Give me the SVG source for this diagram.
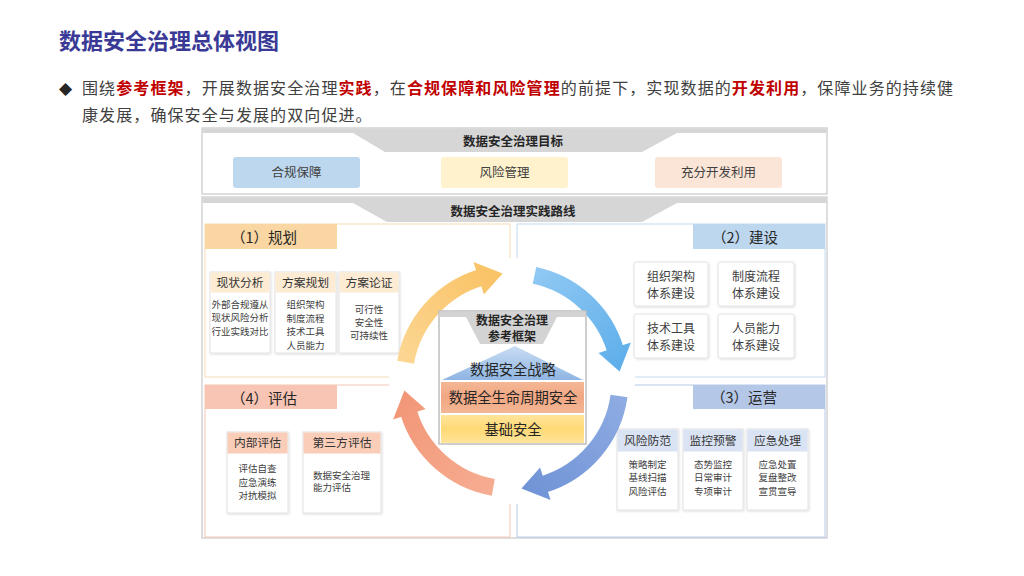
<svg xmlns="http://www.w3.org/2000/svg" width="1024" height="576" viewBox="0 0 1024 576">
<style>
text{font-family:"Noto Sans CJK SC","Noto Sans",sans-serif;fill:#333}
.title{font-size:22px;font-weight:700;fill:#3a3a96}
.body{font-size:16px;letter-spacing:1.1px;fill:#404040}
.hl{font-weight:700;fill:#c00000}
.hdr{font-size:12.5px;font-weight:700;fill:#262626;text-anchor:middle}
.fwh{font-size:12px;font-weight:700;fill:#262626;text-anchor:middle}
.goal{font-size:12.5px;fill:#404040;text-anchor:middle}
.tab{font-size:14.5px;fill:#262626}
.sh{font-size:11.8px;fill:#333;text-anchor:middle}
.sc{font-size:9.5px;fill:#404040;text-anchor:middle}
.bt{font-size:12px;fill:#404040;text-anchor:middle}
.card{fill:#fff;stroke:#e2e2e2;stroke-width:1;filter:url(#sh)}
.frame{fill:#fff;stroke:#c8c8c8;stroke-width:1.2}
.band{fill:#d6d6d6}
.core{font-size:14.3px;fill:#262626;text-anchor:middle}
</style>
<defs>
<filter id="sh" x="-10%" y="-10%" width="125%" height="125%">
<feDropShadow dx="0.8" dy="1" stdDeviation="0.9" flood-color="#000" flood-opacity="0.13"/>
</filter>
<linearGradient id="gy" gradientUnits="userSpaceOnUse" x1="405" y1="362" x2="502" y2="273"><stop offset="0" stop-color="#fcd692"/><stop offset="1" stop-color="#f9c264"/></linearGradient>
<linearGradient id="gb" gradientUnits="userSpaceOnUse" x1="534" y1="275" x2="620" y2="372"><stop offset="0" stop-color="#8fc8f3"/><stop offset="1" stop-color="#5eaeea"/></linearGradient>
<linearGradient id="gd" gradientUnits="userSpaceOnUse" x1="619" y1="396" x2="521" y2="489"><stop offset="0" stop-color="#8eabe2"/><stop offset="1" stop-color="#6f93d6"/></linearGradient>
<linearGradient id="gs" gradientUnits="userSpaceOnUse" x1="493" y1="487" x2="404" y2="390"><stop offset="0" stop-color="#f6ac91"/><stop offset="1" stop-color="#f29676"/></linearGradient>
<linearGradient id="gtri" x1="0" y1="0" x2="0" y2="1"><stop offset="0" stop-color="#c9ddf2"/><stop offset="1" stop-color="#8fb5e3"/></linearGradient>
<linearGradient id="gsal" x1="0" y1="0" x2="0" y2="1"><stop offset="0" stop-color="#f4b795"/><stop offset="0.5" stop-color="#f1a783"/><stop offset="1" stop-color="#f4b795"/></linearGradient>
<linearGradient id="gyel" x1="0" y1="0" x2="0" y2="1"><stop offset="0" stop-color="#ffe49b"/><stop offset="0.5" stop-color="#ffd974"/><stop offset="1" stop-color="#ffe49b"/></linearGradient>
</defs>
<rect width="1024" height="576" fill="#fff"/>

<g id="heading">
<text class="title" x="59" y="49">数据安全治理总体视图</text>
<text x="59" y="94" style="font-family:'DejaVu Sans',sans-serif;font-size:17px;fill:#262626">◆</text>
<text class="body" x="82" y="94">围绕<tspan class="hl">参考框架</tspan>，开展数据安全治理<tspan class="hl">实践</tspan>，在<tspan class="hl">合规保障和风险管理</tspan>的前提下，实现数据的<tspan class="hl">开发利用</tspan>，保障业务的持续健</text>
<text class="body" x="82" y="121">康发展，确保安全与发展的双向促进。</text>
</g>

<g id="goals">
<rect class="frame" x="202" y="128" width="625" height="66"/>
<path class="band" d="M202.6,128.6 H826.4 V133 H677 L642,152 H385 L353,133 H202.6 Z"/>
<text class="hdr" x="513" y="146">数据安全治理目标</text>
<g id="goal-compliance"><rect x="233" y="157" width="127" height="31" rx="3" fill="#bdd7ee"/><text class="goal" x="296.5" y="177">合规保障</text></g>
<g id="goal-risk"><rect x="441" y="157" width="127" height="31" rx="3" fill="#fff2cc"/><text class="goal" x="504.5" y="177">风险管理</text></g>
<g id="goal-use"><rect x="655" y="157" width="127" height="31" rx="3" fill="#fbe5d6"/><text class="goal" x="718.5" y="177">充分开发利用</text></g>
</g>

<g id="practice">
<rect class="frame" x="202" y="197" width="625" height="341"/>
<path class="band" d="M202.6,197.6 H826.4 V203 H677 L642,222 H387 L353,203 H202.6 Z"/>
<text class="hdr" x="513" y="216">数据安全治理实践路线</text>

<rect x="205" y="224" width="305" height="153" fill="#fff" stroke="#f5dcb6"/>
<rect x="517" y="224" width="308" height="153" fill="#fff" stroke="#c3daf0"/>
<rect x="205" y="385" width="305" height="152" fill="#fff" stroke="#f4c6b5"/>
<rect x="517" y="385" width="308" height="152" fill="#fff" stroke="#b8cae8"/>
<circle cx="512" cy="381" r="123" fill="#fff"/>
</g>

<g id="plan">
<rect x="205" y="224" width="132" height="25" fill="#fad7a2"/>
<text class="tab" x="231" y="243">（1）规划</text>
<g id="plan-status">
<rect class="card" x="210" y="272" width="60" height="81"/>
<rect x="210.5" y="272.5" width="59" height="20" fill="#fdecd3"/>
<text class="sh" x="240" y="287">现状分析</text>
<text class="sc" x="240" y="308">外部合规遵从</text>
<text class="sc" x="240" y="321">现状风险分析</text>
<text class="sc" x="240" y="335">行业实践对比</text>
</g>
<g id="plan-scheme">
<rect class="card" x="275" y="272" width="61" height="81"/>
<rect x="275.5" y="272.5" width="60" height="20" fill="#fdecd3"/>
<text class="sh" x="305.5" y="287">方案规划</text>
<text class="sc" x="305.5" y="308">组织架构</text>
<text class="sc" x="305.5" y="322">制度流程</text>
<text class="sc" x="305.5" y="335">技术工具</text>
<text class="sc" x="305.5" y="349">人员能力</text>
</g>
<g id="plan-verify">
<rect class="card" x="339" y="272" width="60" height="81"/>
<rect x="339.5" y="272.5" width="59" height="20" fill="#fdecd3"/>
<text class="sh" x="369" y="287">方案论证</text>
<text class="sc" x="369" y="313">可行性</text>
<text class="sc" x="369" y="326">安全性</text>
<text class="sc" x="369" y="339">可持续性</text>
</g>
</g>

<g id="build">
<rect x="693" y="224" width="132" height="25" fill="#bdd7ee"/>
<text class="tab" x="712" y="243">（2）建设</text>
<g id="build-org"><rect class="card" x="634" y="262" width="74" height="44" rx="2"/><text class="bt" x="671" y="281">组织架构</text><text class="bt" x="671" y="298">体系建设</text></g>
<g id="build-proc"><rect class="card" x="718" y="262" width="76" height="44" rx="2"/><text class="bt" x="756" y="281">制度流程</text><text class="bt" x="756" y="298">体系建设</text></g>
<g id="build-tech"><rect class="card" x="634" y="314" width="74" height="44" rx="2"/><text class="bt" x="671" y="333">技术工具</text><text class="bt" x="671" y="350">体系建设</text></g>
<g id="build-people"><rect class="card" x="718" y="314" width="76" height="44" rx="2"/><text class="bt" x="756" y="333">人员能力</text><text class="bt" x="756" y="350">体系建设</text></g>
</g>

<g id="evaluate">
<rect x="205" y="385" width="132" height="24" fill="#f8c4b3"/>
<text class="tab" x="231" y="404">（4）评估</text>
<g id="eval-internal">
<rect class="card" x="227" y="432" width="61" height="81"/>
<rect x="227.5" y="432.5" width="60" height="21" fill="#f9cdb8"/>
<text class="sh" x="257.5" y="447">内部评估</text>
<text class="sc" x="257.5" y="472">评估自查</text>
<text class="sc" x="257.5" y="486">应急演练</text>
<text class="sc" x="257.5" y="499">对抗模拟</text>
</g>
<g id="eval-third">
<rect class="card" x="303" y="432" width="78" height="81"/>
<rect x="303.5" y="432.5" width="77" height="21" fill="#f9cdb8"/>
<text class="sh" x="342" y="447">第三方评估</text>
<text class="sc" x="313" y="479" style="text-anchor:start">数据安全治理</text>
<text class="sc" x="313" y="491" style="text-anchor:start">能力评估</text>
</g>
</g>

<g id="operate">
<rect x="693" y="385" width="132" height="24" fill="#b4c7e7"/>
<text class="tab" x="711" y="403">（3）运营</text>
<g id="op-risk">
<rect class="card" x="617" y="429" width="61" height="81"/>
<rect x="617.5" y="429.5" width="60" height="22" fill="#dae3f3"/>
<text class="sh" x="647.5" y="445">风险防范</text>
<text class="sc" x="647.5" y="468">策略制定</text>
<text class="sc" x="647.5" y="481">基线扫描</text>
<text class="sc" x="647.5" y="495">风险评估</text>
</g>
<g id="op-monitor">
<rect class="card" x="683" y="429" width="60" height="81"/>
<rect x="683.5" y="429.5" width="59" height="22" fill="#dae3f3"/>
<text class="sh" x="713" y="445">监控预警</text>
<text class="sc" x="713" y="468">态势监控</text>
<text class="sc" x="713" y="481">日常审计</text>
<text class="sc" x="713" y="495">专项审计</text>
</g>
<g id="op-response">
<rect class="card" x="747" y="429" width="61" height="81"/>
<rect x="747.5" y="429.5" width="60" height="22" fill="#dae3f3"/>
<text class="sh" x="777.5" y="445">应急处理</text>
<text class="sc" x="777.5" y="468">应急处置</text>
<text class="sc" x="777.5" y="481">复盘整改</text>
<text class="sc" x="777.5" y="495">宣贯宣导</text>
</g>
</g>

<g id="connectors">
<path d="M405.6,362.3 A108,108 0 0 1 480.4,277.7" fill="none" stroke="url(#gy)" stroke-width="17"/>
<polygon points="483.9,294.5 473.4,262.1 502.6,273.4" fill="url(#gy)"/>
<path d="M534.5,275.4 A108,108 0 0 1 615.3,349.4" fill="none" stroke="url(#gb)" stroke-width="17"/>
<polygon points="598.5,352.9 630.9,342.4 619.6,371.6" fill="url(#gb)"/>
<path d="M619.0,396.0 A108,108 0 0 1 543.7,484.3" fill="none" stroke="url(#gd)" stroke-width="17"/>
<polygon points="540.1,467.5 550.6,499.9 521.4,488.6" fill="url(#gd)"/>
<path d="M493.3,487.4 A108,108 0 0 1 408.7,412.6" fill="none" stroke="url(#gs)" stroke-width="17"/>
<polygon points="425.5,409.1 393.1,419.6 404.4,390.4" fill="url(#gs)"/>
</g>

<g id="framework">
<rect x="439" y="311" width="147" height="133" fill="#fff" stroke="#bfbfbf" stroke-width="1.5"/>
<path d="M439.8,311.8 H585.2 V317 H557 L543,344 H480 L466,317 H439.8 Z" fill="#d3d3d3"/>
<text class="fwh" x="512" y="325">数据安全治理</text>
<text class="fwh" x="512" y="341">参考框架</text>
<g id="fw-strategy"><polygon points="515,346 583,380 442,380" fill="url(#gtri)"/><text class="core" x="513" y="375">数据安全战略</text></g>
<g id="fw-lifecycle"><rect x="441" y="382" width="143" height="31" fill="url(#gsal)"/><text class="core" x="513" y="403">数据全生命周期安全</text></g>
<g id="fw-base"><rect x="441" y="415" width="143" height="28" fill="url(#gyel)"/><text class="core" x="513" y="435">基础安全</text></g>
</g>
</svg>
